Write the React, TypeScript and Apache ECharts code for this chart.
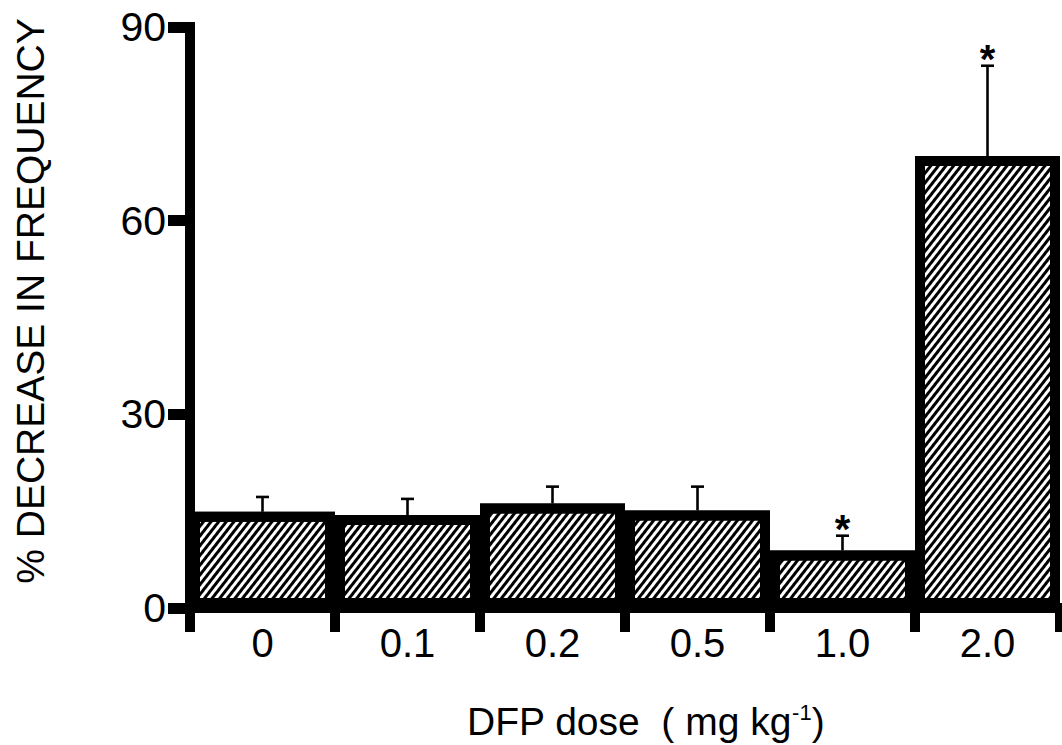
import React, { useEffect, useRef } from "react";
import * as echarts from "echarts";

// DFP dose groups (mg/kg) and the measured % decrease in frequency
const doses = ["0", "0.1", "0.2", "0.5", "1.0", "2.0"];
const meanDecrease = [14.9, 14.4, 16.2, 15.1, 8.9, 70.0];
const errorUpper = [2.3, 2.5, 2.6, 3.7, 2.3, 14.0];
const significant = [false, false, false, false, true, true];

// Y axis scale
const yMin = 0;
const yMax = 90;
const yStep = 30;

const FONT = "'Liberation Sans', Arial, Helvetica, sans-serif";

export default function App() {
  const ref = useRef<HTMLDivElement | null>(null);

  useEffect(() => {
    if (!ref.current) return;
    const chart = echarts.init(ref.current, undefined, { renderer: "svg" });

    const errorData = doses.map((_, i) => [i, meanDecrease[i], errorUpper[i], significant[i] ? 1 : 0]);

    const option: any = {
      animation: false,
      backgroundColor: "#fff",
      grid: { left: 190, right: 2, top: 27, bottom: 137, containLabel: false },
      xAxis: {
        type: "category",
        data: doses,
        boundaryGap: true,
        axisLine: { show: true, lineStyle: { color: "#000", width: 10, cap: "square" } },
        axisTick: { show: true, length: 24, lineStyle: { color: "#000", width: 10 } },
        axisLabel: { color: "#000", fontSize: 40, fontFamily: FONT, margin: 15 },
        splitLine: { show: false },
      },
      yAxis: {
        type: "value",
        min: yMin,
        max: yMax,
        interval: yStep,
        axisLine: { show: true, lineStyle: { color: "#000", width: 10, cap: "square" } },
        axisTick: { show: true, length: 22, lineStyle: { color: "#000", width: 11 } },
        axisLabel: { color: "#000", fontSize: 41, fontFamily: FONT, margin: 24 },
        splitLine: { show: false },
      },
      series: [
        {
          type: "bar",
          data: meanDecrease,
          barWidth: "100%",
          barGap: "0%",
          barCategoryGap: "0%",
          z: 2,
          itemStyle: {
            color: "#fff",
            borderColor: "#000",
            borderWidth: 10,
            decal: {
              symbol: "rect",
              symbolSize: 1,
              color: "#000",
              dashArrayX: [1, 0],
              dashArrayY: [2.9, 2.8],
              rotation: (-52 * Math.PI) / 180,
            },
          },
        },
        {
          type: "custom",
          z: 3,
          data: errorData,
          encode: { x: 0, y: 1 },
          renderItem: (params: any, api: any) => {
            const idx = api.value(0);
            const mean = api.value(1);
            const err = api.value(2);
            const sig = api.value(3);
            const base = api.coord([idx, mean]);
            const top = api.coord([idx, mean + err]);
            const half = 6.5;
            const children: any[] = [
              {
                type: "line",
                shape: { x1: base[0], y1: base[1], x2: top[0], y2: top[1] },
                style: { stroke: "#000", lineWidth: 2.6 },
              },
              {
                type: "line",
                shape: { x1: top[0] - half, y1: top[1], x2: top[0] + half, y2: top[1] },
                style: { stroke: "#000", lineWidth: 2.6 },
              },
            ];
            if (sig) {
              children.push({
                type: "text",
                style: {
                  text: "*",
                  x: top[0],
                  y: top[1] - 7,
                  fontSize: 40,
                  fontWeight: "bold",
                  fontFamily: FONT,
                  fill: "#000",
                  align: "center",
                  verticalAlign: "middle",
                },
              });
            }
            return { type: "group", children };
          },
        },
      ],
      graphic: [
        {
          type: "text",
          x: 30,
          y: 301,
          rotation: Math.PI / 2,
          style: {
            text: "% DECREASE IN FREQUENCY",
            fontSize: 39,
            fontFamily: FONT,
            fill: "#000",
            align: "center",
            verticalAlign: "middle",
          },
        },
        {
          type: "text",
          x: 467,
          y: 701,
          style: {
            text: "DFP dose  ( mg kg{sup|-1})",
            fontSize: 39,
            fontFamily: FONT,
            fill: "#000",
            align: "left",
            verticalAlign: "top",
            lineHeight: 40,
            rich: {
              sup: { fontSize: 22, fontFamily: FONT, verticalAlign: "top", lineHeight: 40, fill: "#000" },
            },
          },
        },
      ],
    };

    chart.setOption(option);
    return () => chart.dispose();
  }, []);

  return (
    <div
      ref={ref}
      style={{ position: "fixed", left: 0, top: 0, width: 1062, height: 745, background: "#fff" }}
    />
  );
}
